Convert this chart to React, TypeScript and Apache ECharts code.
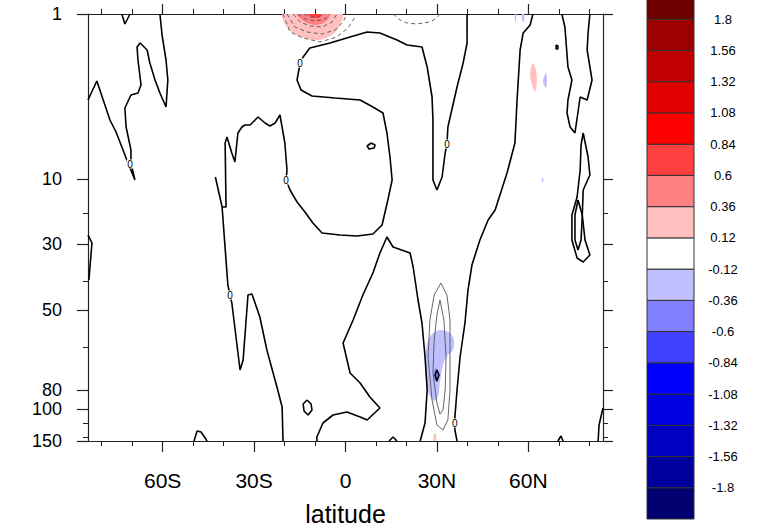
import React, { useEffect, useRef } from "react";
import * as echarts from "echarts";

// ---------- axes ----------
const latMin = -84.5;
const latMax = 84.5;
const latTicksMajor = [-60, -30, 0, 30, 60];
const latTickLabels = ["60S", "30S", "0", "30N", "60N"];
const latTicksMinor = [-80, -70, -50, -40, -20, -10, 10, 20, 40, 50, 70, 80];

// vertical coordinate (level position, top = 0)
const levMin = 0;
const levMax = 42.7;
const levelLabels = [1, 10, 30, 50, 80, 100, 150];
const levelPos = [0, 16.5, 23.0, 29.6, 37.6, 39.5, 42.7];
const levelMinorPos = [19.9, 26.7, 33.3, 40.9, 42.3];

// ---------- colour bar ----------
const contourLevels = [-1.8, -1.56, -1.32, -1.08, -0.84, -0.6, -0.36, -0.12, 0.12, 0.36, 0.6, 0.84, 1.08, 1.32, 1.56, 1.8];
const levelColors = [
  "#000070", "#00009c", "#0000c0", "#0000e0", "#0000ff", "#4040ff", "#8080ff", "#c0c0ff",
  "#ffffff",
  "#ffc0c0", "#ff8080", "#ff4040", "#ff0000", "#e00000", "#c00000", "#9c0000", "#700000",
];
const cbMin = -2.04;
const cbMax = 2.04;

// ---------- shaded regions [lat, level] ----------
const redPatchOuter = [[-20.5, 0], [-19.5, 1.2], [-16.6, 2.0], [-12.6, 2.5], [-8.4, 2.6], [-4.4, 2.1], [-2.1, 1.3], [-1.1, 0]];
const redPatchMid = [[-15.9, 0], [-13.3, 0.8], [-10.0, 1.1], [-6.7, 0.8], [-5.1, 0]];
const redPatchCore = [[-12.3, 0], [-10.7, 0.35], [-8.7, 0.35], [-7.7, 0]];
const bluePatch = [[31.0, 31.6], [34.3, 31.9], [35.6, 32.6], [35.3, 33.6], [33.3, 34.2], [32.0, 35.1], [31.0, 36.8], [30.4, 38.2], [29.1, 38.7], [27.4, 38.0], [26.4, 36.4], [26.1, 34.6], [26.8, 32.9], [28.4, 32.0]];
const bluePatchCore = [[29.7, 35.4], [30.4, 35.8], [30.0, 36.8], [29.1, 36.5], [29.1, 35.8]];
const pinkSpeck = [[61.5, 4.9], [62.5, 5.6], [62.8, 6.6], [62.2, 7.8], [61.2, 7.1], [60.6, 6.1], [60.9, 5.3]];
const blueSpeck = [[65.8, 5.9], [66.1, 6.6], [65.8, 7.4], [64.8, 6.7]];
const blueTopSpeckA = [[55.6, 0], [56.0, 0], [55.9, 0.8], [55.6, 0.6]];
const blueTopSpeckB = [[57.9, 0], [58.6, 0], [58.6, 0.8], [57.9, 0.6]];
const blueDot = [[64.5, 16.4], [64.9, 16.4], [64.9, 16.8], [64.5, 16.8]];
const pinkBottomSpeck = [[29.0, 42.0], [29.7, 42.0], [29.7, 42.7], [29.0, 42.7]];

// ---------- zero contours (thick) ----------
const zeroFarLeft = [[-84.5, 8.6], [-81.6, 6.7], [-77.3, 10.6], [-75.3, 11.8], [-73.0, 13.6], [-71.4, 14.9], [-69.1, 16.6], [-70.4, 14.9], [-70.4, 13.6], [-72.0, 11.3], [-72.4, 9.4], [-70.4, 8.1], [-68.1, 7.9], [-67.1, 7.1], [-68.1, 4.6], [-68.4, 3.3], [-67.4, 2.9], [-65.1, 3.6], [-64.2, 4.9], [-62.5, 6.6], [-60.9, 7.9], [-58.9, 9.3], [-58.3, 6.6], [-58.9, 4.6], [-60.2, 2.1], [-60.9, 0]];
const zeroTopNotch = [[-73.4, 0], [-72.4, 1.0], [-70.7, 0]];
const zeroLeftEdge = [[-84.5, 22.1], [-83.2, 22.9], [-84.2, 26.6]];
const zeroSouthA = [[-20.5, 42.7], [-20.8, 39.3], [-22.5, 37.3], [-25.8, 33.6], [-28.1, 30.3], [-30.7, 28.0], [-32.0, 28.1], [-33.6, 34.6], [-34.6, 35.6], [-37.3, 28.9], [-37.9, 28.1], [-38.6, 27.1], [-40.5, 19.3], [-42.7, 16.3]];
const zeroMain = [[-40.5, 19.3], [-39.2, 19.3], [-39.5, 12.9], [-38.9, 12.3], [-37.3, 13.9], [-36.3, 14.8], [-35.3, 11.9], [-34.0, 11.3], [-33.0, 11.1], [-31.3, 11.1], [-28.7, 10.3], [-26.4, 10.9], [-24.8, 11.2], [-23.1, 10.9], [-21.5, 10.1], [-19.9, 12.9], [-19.2, 15.6], [-19.5, 16.6], [-18.2, 17.6], [-15.9, 18.8], [-13.3, 19.8], [-10.7, 20.9], [-7.7, 21.9], [-1.8, 22.1], [3.8, 22.2], [9.0, 22.0], [12.0, 21.1], [13.9, 18.6], [15.3, 16.6], [14.6, 14.3], [13.6, 11.9], [12.3, 9.9], [9.0, 9.3], [4.8, 8.6], [-3.4, 8.4], [-11.0, 8.2], [-14.6, 7.6], [-15.9, 6.6], [-14.9, 4.9], [-13.9, 4.3], [-11.7, 3.4], [-5.1, 2.9], [1.5, 2.3], [7.1, 1.8], [11.3, 1.9], [16.9, 2.6], [20.2, 3.1], [25.1, 3.3], [26.8, 5.3], [28.4, 8.3], [28.7, 10.6], [28.7, 16.6], [30.0, 17.6], [31.7, 16.3], [32.7, 13.9], [33.3, 13.0], [33.6, 11.3], [36.6, 7.3], [38.6, 4.9], [39.9, 2.9], [39.9, 0]];
const zeroLowerTongue = [[-9.4, 42.7], [-9.4, 42.3], [-7.4, 40.9], [-4.1, 40.1], [0.5, 39.8], [4.8, 40.3], [7.1, 40.6], [11.3, 39.4], [8.0, 38.3], [4.8, 36.9], [1.5, 35.9], [-0.8, 32.9], [2.5, 30.6], [5.7, 28.1], [9.0, 25.9], [11.3, 23.9], [13.6, 22.3], [15.6, 23.3], [21.2, 23.9], [22.2, 25.3], [23.8, 28.6], [25.1, 30.9], [26.1, 34.3], [26.8, 37.6], [26.1, 40.9], [24.5, 42.7]];
const zeroNorthWall = [[61.5, 0], [60.6, 1.1], [58.3, 1.9], [57.3, 3.6], [56.3, 8.6], [55.6, 12.9], [53.0, 15.9], [49.1, 19.6], [46.8, 20.6], [44.1, 22.6], [41.5, 25.1], [40.2, 27.6], [39.2, 30.9], [37.6, 34.3], [36.6, 37.6], [35.9, 40.3], [35.9, 40.9], [35.9, 41.6], [36.6, 42.7]];
const zeroPolarTop = [[71.0, 0], [72.0, 1.3], [73.0, 5.3], [74.3, 6.6], [73.0, 8.6], [72.7, 9.9], [73.7, 11.3], [75.3, 11.9], [77.0, 8.3], [79.3, 8.6], [80.9, 6.6], [79.3, 3.6], [79.6, 1.9], [80.2, 0]];
const zeroPolarLoop = [[78.0, 11.9], [79.6, 14.3], [80.2, 16.1], [78.0, 17.6], [77.7, 20.1], [78.6, 22.6], [80.2, 24.1], [78.0, 24.8], [76.0, 24.4], [74.3, 22.6], [74.3, 20.1], [76.0, 18.3], [77.0, 15.6], [77.3, 13.1], [78.0, 11.9]];
const zeroPolarInner = [[76.3, 18.6], [77.7, 20.1], [77.3, 22.6], [76.3, 23.6], [75.3, 22.6], [75.3, 20.1], [76.3, 18.6]];
const zeroNorthCorner = [[82.9, 42.7], [83.2, 41.1], [84.5, 39.4]];
const zeroBumpSouth = [[-49.7, 42.7], [-48.7, 41.7], [-47.4, 41.8], [-45.4, 42.7]];
const zeroBumpTropic = [[14.3, 42.7], [15.6, 42.3], [16.9, 42.7]];
const zeroBumpNorth = [[69.7, 42.7], [70.7, 42.2], [71.4, 42.7]];
const zeroIsleSouth = [[-12.6, 38.6], [-11.3, 39.0], [-11.0, 39.6], [-12.3, 40.1], [-13.6, 39.7], [-13.9, 39.0], [-12.6, 38.6]];
const zeroIsleEq = [[8.4, 12.9], [9.7, 13.1], [9.4, 13.4], [7.7, 13.5], [7.1, 13.2], [8.4, 12.9]];
const zeroIsleNorth = [[69.1, 3.1], [69.7, 3.2], [69.7, 3.5], [69.1, 3.5], [69.1, 3.1]];
const zeroIsleJet = [[30.0, 35.6], [30.7, 36.1], [30.0, 36.7], [29.4, 36.1], [30.0, 35.6]];

// ---------- thin solid contours ----------
const jetOuter = [[31.3, 26.9], [33.3, 28.1], [34.3, 30.6], [34.3, 37.6], [33.6, 40.6], [32.0, 41.6], [30.0, 41.1], [28.4, 38.6], [27.1, 34.3], [27.7, 30.6], [29.1, 28.1], [31.3, 26.9]];
const jetInner = [[31.0, 28.6], [32.3, 30.6], [33.0, 34.3], [32.7, 37.6], [32.0, 39.6], [31.0, 40.0], [30.0, 38.9], [28.7, 35.9], [29.1, 32.6], [30.0, 30.1], [31.0, 28.6]];

// ---------- thin dashed contours ----------
const dashA1 = [[-20.5, 0], [-18.2, 1.8], [-13.9, 2.4], [-8.4, 2.8], [-2.8, 2.3], [0.8, 1.4], [3.8, 0]];
const dashA2 = [[-19.2, 0], [-16.6, 1.3], [-12.6, 1.8], [-7.7, 2.0], [-3.4, 1.6], [-0.8, 0.8], [0.5, 0]];
const dashA3 = [[-17.2, 0], [-14.9, 0.8], [-11.7, 1.2], [-7.7, 1.3], [-4.4, 0.8], [-2.8, 0]];
const dashA4 = [[-15.6, 0], [-13.3, 0.5], [-10.0, 0.7], [-6.7, 0.5], [-5.1, 0]];
const dashA5 = [[-13.6, 0], [-11.7, 0.3], [-9.0, 0.3], [-7.1, 0]];
const dashNorth = [[15.6, 0], [17.9, 0.6], [20.2, 0.9], [23.5, 1.0], [27.7, 0.8], [30.0, 0.4], [31.0, 0]];

// ---------- contour labels ----------
const zeroLabels = [[-70.7, 15.0], [-37.9, 28.1], [-19.5, 16.6], [-14.9, 4.9], [33.3, 13.0], [35.9, 40.9]];

const thickContours = [zeroFarLeft, zeroTopNotch, zeroLeftEdge, zeroSouthA, zeroMain, zeroLowerTongue, zeroNorthWall, zeroPolarTop, zeroPolarLoop, zeroPolarInner, zeroNorthCorner, zeroBumpSouth, zeroBumpTropic, zeroBumpNorth, zeroIsleSouth, zeroIsleEq, zeroIsleNorth, zeroIsleJet];
const thinContours = [jetOuter, jetInner];
const dashedContours = [dashA1, dashA2, dashA3, dashA4, dashA5, dashNorth];

const fills = [
  { pts: redPatchOuter, cls: 9 },
  { pts: redPatchMid, cls: 10 },
  { pts: redPatchCore, cls: 11 },
  { pts: bluePatch, cls: 7 },
  { pts: bluePatchCore, cls: 6 },
  { pts: pinkSpeck, cls: 9 },
  { pts: blueSpeck, cls: 7 },
  { pts: blueTopSpeckA, cls: 7 },
  { pts: blueTopSpeckB, cls: 7 },
  { pts: blueDot, cls: 7 },
  { pts: pinkBottomSpeck, cls: 9 },
];

const FONT = "Liberation Sans, Arial, Helvetica, sans-serif";
const AXIS_COLOR = "#222";

export default function App() {
  const ref = useRef<HTMLDivElement>(null);

  useEffect(() => {
    if (!ref.current) return;
    const chart = echarts.init(ref.current, undefined, { renderer: "svg" });

    const lineSeries = (pts: number[][], color: string, width: number, type: any, z: number) => ({
      type: "line",
      xAxisIndex: 0,
      yAxisIndex: 0,
      data: pts,
      showSymbol: false,
      symbol: "none",
      silent: true,
      clip: true,
      z,
      lineStyle: { color, width, type },
    });

    const nearestLevelLabel = (v: number) => {
      let best = 0;
      for (let i = 1; i < levelPos.length; i++) {
        if (Math.abs(levelPos[i] - v) < Math.abs(levelPos[best] - v)) best = i;
      }
      return String(levelLabels[best]);
    };

    const xBase = { type: "value", gridIndex: 0, min: latMin, max: latMax, splitLine: { show: false } };
    const yBase = { type: "value", gridIndex: 0, min: levMin, max: levMax, inverse: true, splitLine: { show: false } };
    const axisLine = { show: true, onZero: false, lineStyle: { color: AXIS_COLOR, width: 1.2 } };
    const noLine = { show: false, onZero: false };

    const option: any = {
      animation: false,
      backgroundColor: "#fff",
      textStyle: { fontFamily: FONT },
      grid: [
        { left: 88, top: 14, width: 515, height: 427, outerBoundsMode: "none", containLabel: false },
        { left: 647, top: -12, width: 47, height: 531, outerBoundsMode: "none", containLabel: false },
      ],
      xAxis: [
        {
          ...xBase,
          position: "bottom",
          axisLine,
          axisTick: { show: true, customValues: latTicksMajor, length: 11, lineStyle: { color: AXIS_COLOR, width: 1.2 } },
          axisLabel: {
            show: true,
            customValues: latTicksMajor,
            formatter: (v: number) => latTickLabels[latTicksMajor.indexOf(v)] ?? "",
            margin: 29,
            fontSize: 21,
            color: "#000",
            fontFamily: FONT,
          },
          name: "latitude",
          nameLocation: "middle",
          nameGap: 60,
          nameTextStyle: { fontSize: 25, color: "#000", fontFamily: FONT },
        },
        {
          ...xBase,
          position: "bottom",
          axisLine: noLine,
          axisTick: { show: true, customValues: latTicksMinor, length: 5, lineStyle: { color: AXIS_COLOR, width: 1 } },
          axisLabel: { show: false },
        },
        {
          ...xBase,
          position: "top",
          axisLine,
          axisTick: { show: true, customValues: latTicksMajor, length: 10, lineStyle: { color: AXIS_COLOR, width: 1.2 } },
          axisLabel: { show: false },
        },
        {
          ...xBase,
          position: "top",
          axisLine: noLine,
          axisTick: { show: true, customValues: latTicksMinor, length: 5, lineStyle: { color: AXIS_COLOR, width: 1 } },
          axisLabel: { show: false },
        },
        {
          type: "value",
          gridIndex: 1,
          min: 0,
          max: 1,
          show: false,
        },
      ],
      yAxis: [
        {
          ...yBase,
          position: "left",
          axisLine,
          axisTick: { show: true, customValues: levelPos, length: 11, lineStyle: { color: AXIS_COLOR, width: 1.2 } },
          axisLabel: {
            show: true,
            customValues: levelPos,
            formatter: (v: number) => nearestLevelLabel(v),
            margin: 26,
            fontSize: 18,
            color: "#000",
            fontFamily: FONT,
          },
        },
        {
          ...yBase,
          position: "left",
          axisLine: noLine,
          axisTick: { show: true, customValues: levelMinorPos, length: 5, lineStyle: { color: AXIS_COLOR, width: 1 } },
          axisLabel: { show: false },
        },
        {
          ...yBase,
          position: "right",
          axisLine,
          axisTick: { show: true, customValues: levelPos, length: 10, lineStyle: { color: AXIS_COLOR, width: 1.2 } },
          axisLabel: { show: false },
        },
        {
          ...yBase,
          position: "right",
          axisLine: noLine,
          axisTick: { show: true, customValues: levelMinorPos, length: 5, lineStyle: { color: AXIS_COLOR, width: 1 } },
          axisLabel: { show: false },
        },
        {
          type: "value",
          gridIndex: 1,
          min: cbMin,
          max: cbMax,
          position: "right",
          splitLine: { show: false },
          axisLine: { show: false, onZero: false },
          axisTick: { show: false },
          axisLabel: {
            show: true,
            customValues: contourLevels,
            formatter: (v: number) => String(v),
            margin: 29,
            align: "center",
            fontSize: 13,
            color: "#000",
            fontFamily: FONT,
          },
        },
      ],
      series: [
        {
          type: "custom",
          name: "shading",
          xAxisIndex: 0,
          yAxisIndex: 0,
          clip: true,
          silent: true,
          z: 1,
          data: fills.map((f) => f.pts[0]),
          renderItem: (params: any, api: any) => {
            const f = fills[params.dataIndex];
            const points = f.pts.map((p) => api.coord(p));
            return {
              type: "polygon",
              shape: { points, smooth: 0.3 },
              style: { fill: levelColors[f.cls], stroke: "none" },
            };
          },
        },
        ...dashedContours.map((c) => lineSeries(c, "#555", 0.9, [4, 3], 2)),
        ...thinContours.map((c) => lineSeries(c, "#555", 0.9, "solid", 2)),
        ...thickContours.map((c) => lineSeries(c, "#000", 1.6, "solid", 3)),
        {
          type: "scatter",
          name: "contour labels",
          xAxisIndex: 0,
          yAxisIndex: 0,
          silent: true,
          z: 6,
          data: zeroLabels,
          symbol: "rect",
          symbolSize: [7, 9],
          itemStyle: { color: "#ffffff", opacity: 1 },
          label: {
            show: true,
            position: "inside",
            formatter: "0",
            fontSize: 10,
            color: "#000000",
            fontFamily: FONT,
          },
        },
        {
          type: "custom",
          name: "colorbar",
          xAxisIndex: 4,
          yAxisIndex: 4,
          clip: false,
          silent: true,
          data: levelColors.map((c, i) => {
            const lo = i === 0 ? cbMin : contourLevels[i - 1];
            const hi = i === levelColors.length - 1 ? cbMax : contourLevels[i];
            return [0.5, (lo + hi) / 2];
          }),
          renderItem: (params: any, api: any) => {
            const i = params.dataIndex;
            const lo = i === 0 ? cbMin : contourLevels[i - 1];
            const hi = i === levelColors.length - 1 ? cbMax : contourLevels[i];
            const p1 = api.coord([0, hi]);
            const p2 = api.coord([1, lo]);
            return {
              type: "rect",
              shape: { x: p1[0], y: p1[1], width: p2[0] - p1[0], height: p2[1] - p1[1] },
              style: { fill: levelColors[i], stroke: "#333", lineWidth: 1 },
            };
          },
        },
      ],
    };

    chart.setOption(option);
    return () => chart.dispose();
  }, []);

  return (
    <div
      ref={ref}
      style={{ position: "absolute", left: 0, top: 0, width: 761, height: 529, background: "#fff" }}
    />
  );
}
